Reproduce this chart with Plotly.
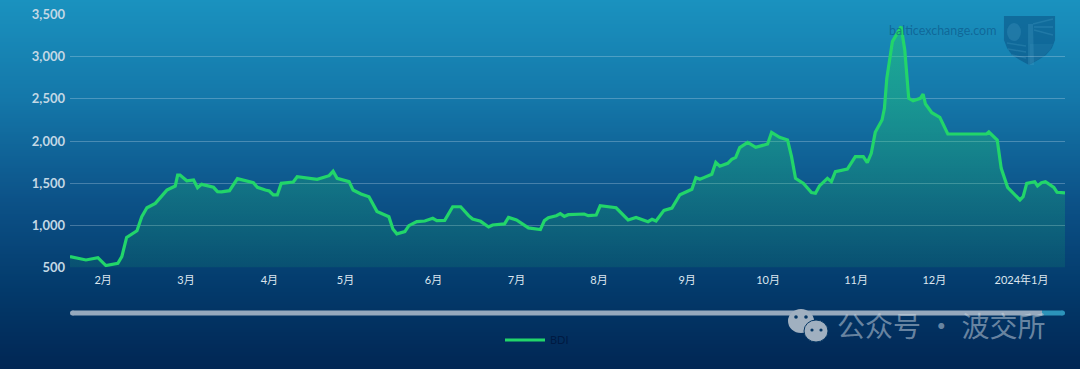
import plotly.graph_objects as go

W, H = 1080, 369

session = [0,4,7,9,12,13,14.2,16.8,18,19.3,21.4,24.3,26.4,27,27.6,29.3,31,32,33,36,37,38,40,42,46,47,49,50,51,52,53,56,57,62,65,66,67,70,71,73,
75,77,80,81,82,84,85,87,89,91,92,94,96,98,100,101,103,105,106,109,110,112,115,118,119,120,122,123,124,125,129,130,132,133,137,140,142,145,146,147,149,151,153,156,157,158,159,161,162,163,
165,166,167,168,170,172,175,176,178,180,181,182,184,186,187,188,190,191,192,195,197,199,200,201,202,203.7,204.3,204.9,206.3,208.5,209.4,210.4,211.5,213.3,214,214.6,216.2,218.2,220.2,228.2,229.9,230.5,232.6,233.6,235.2,238.3,239.1,240,242,242.7,243.7,244.7,246.8,247.6,248.7,249.6]

bdi = [627,587,615,520,547,626,855,934,1100,1207,1259,1417,1465,1595,1595,1527,1537,1446,1485,1450,1398,1395,1410,1553,1505,1450,1418,1406,1359,1359,1497,1513,1576,1545,1588,1640,1557,1517,1418,1371,
1337,1164,1101,956,897,924,995,1042,1050,1082,1054,1058,1219,1219,1113,1074,1046,979,1003,1015,1093,1062,968,948,1054,1090,1113,1137,1105,1125,1133,1113,1121,1231,1207,1062,1093,1042,1070,1050,1176,1203,1361,1427,1565,1545,1565,1604,1746,1700,
1735,1782,1806,1921,1984,1925,1964,2103,2044,2012,1814,1557,1497,1387,1379,1466,1557,1517,1636,1667,1814,1814,1743,1854,2103,2249,2388,2744,3180,3358,3081,2507,2479,2507,2558,2439,2336,2281,2083,2083,2083,2107,2012,1675,1450,1300,1339,1497,1517,1466,1505,1517,1450,1391,1383,1383]

tick_sessions = [8.3,29.1,50,69.1,91.2,112,132.7,154.8,175.1,197.2,216.8,238.7]
tick_labels = ["2月","3月","4月","5月","6月","7月","8月","9月","10月","11月","12月","2024年1月"]
y_ticks = [500,1000,1500,2000,2500,3000,3500]

FONT = "Lato, 'Noto Sans CJK SC', sans-serif"

def px(x): return x / W
def py(y): return 1 - y / H

stops = [(0,(26,146,191)),(100,(20,119,169)),(200,(12,82,136)),(290,(3,58,107)),(369,(1,38,84))]
def bg(y):
    for (a,ca),(b,cb) in zip(stops, stops[1:]):
        if a <= y <= b:
            t = (y-a)/(b-a)
            return "rgb(%d,%d,%d)" % tuple(round(ca[i]+(cb[i]-ca[i])*t) for i in range(3))
    return "rgb(1,38,84)"

shapes = [dict(type="rect", xref="paper", yref="paper", x0=0, x1=1, y0=0, y1=py(y),
               fillcolor=bg(y+1), line_width=0, layer="below") for y in range(0, H, 2)]

def dot(cx, cy, rx, ry, color, layer="above", **kw):
    return dict(type="circle", xref="paper", yref="paper", x0=px(cx-rx), x1=px(cx+rx),
                y0=py(cy+ry), y1=py(cy-ry), fillcolor=color, line_width=0, layer=layer, **kw)

def seg(x0, y0, x1, y1, color, width, layer="above"):
    return dict(type="line", xref="paper", yref="paper", x0=px(x0), x1=px(x1), y0=py(y0), y1=py(y1),
                line=dict(color=color, width=width), layer=layer)

def poly(points, color, layer="below"):
    path = "M " + " L ".join(f"{px(a):.4f},{py(b):.4f}" for a,b in points) + " Z"
    return dict(type="path", xref="paper", yref="paper", path=path, fillcolor=color, line_width=0, layer=layer)

# range slider look
shapes += [
    seg(1042, 313, 1062.5, 313, "#2c94ba", 5),
    dot(1062.5, 313, 2.5, 2.5, "#2c94ba"),
    dot(72.5, 313, 2.5, 2.5, "#96a9bd"),
    seg(72.5, 313, 1042, 313, "#96a9bd", 5),
]

# shield watermark
shield = [(1004,16),(1055,16),(1055,40),(1052,48),(1046,55),(1038,60),(1029,65),(1020,60),(1012,55),(1007,48),(1004,40)]
light = "rgba(70,155,195,0.3)"
shapes += [
    poly(shield, "rgba(8,75,125,0.5)"),
    poly([(1030,44),(1053,44),(1050,50),(1044,56),(1030,64)], "rgba(70,155,195,0.15)"),
    poly([(1028,24),(1033,24),(1034,65),(1028,65)], light),
    seg(1033,24,1053,19,light,1.6,"below"), seg(1034,27,1053,27,light,1.6,"below"), seg(1034,30,1053,35,light,1.6,"below"),
    dot(1014,32,7,9,light,"below"),
    seg(1007,43,1026,46,light,1.4,"below"), seg(1008,49,1026,52,light,1.4,"below"), seg(1012,55,1026,58,light,1.4,"below"),
]

# chat icon
icon = "rgb(160,176,192)"
eye = "rgb(5,55,100)"
shapes += [
    dot(801, 321, 13, 12, icon),
    dict(type="circle", xref="paper", yref="paper", x0=px(804), x1=px(828), y0=py(342), y1=py(320),
         fillcolor=icon, line=dict(color=eye, width=1), layer="above"),
    dot(796, 317, 1.8, 1.8, eye), dot(806, 317, 1.8, 1.8, eye),
    dot(812, 330, 1.6, 1.6, eye), dot(821, 330, 1.6, 1.6, eye),
]

fig = go.Figure()
fig.add_trace(go.Scatter(
    x=session, y=bdi, mode="lines", showlegend=False, hoverinfo="skip",
    line=dict(width=0), fill="tozeroy",
    fillgradient=dict(type="vertical",
                      colorscale=[[0,"rgba(34,213,106,0.05)"],[1,"rgba(34,213,106,0.45)"]]),
))
fig.add_trace(go.Scatter(
    x=session, y=bdi, mode="lines", name="BDI",
    line=dict(color="#22d56a", width=3.2),
))

fig.update_layout(
    width=W, height=H, margin=dict(l=0,r=0,t=0,b=0,autoexpand=False),
    paper_bgcolor="#012654", plot_bgcolor="rgba(0,0,0,0)",
    shapes=shapes,
    font=dict(family=FONT, color="#c3d8e5", size=11),
    xaxis=dict(domain=[px(70),px(1065)], range=[0,249.6], tickmode="array",
               tickvals=tick_sessions, ticktext=tick_labels, showgrid=False, zeroline=False,
               showline=False, ticks="", tickfont=dict(size=11,color="#dce6ee"), anchor="y",
               fixedrange=True, automargin=False, ticklabelstandoff=5),
    yaxis=dict(domain=[py(267.3),py(14.7)], range=[500,3500], tickmode="array",
               tickvals=y_ticks, tickformat=",d", showgrid=True,
               gridcolor="rgba(220,235,245,0.28)", gridwidth=1, zeroline=False,
               showline=False, ticks="", tickfont=dict(size=13,color="#c3d8e5",weight=700),
               fixedrange=True, automargin=False, ticklabelstandoff=4),
    legend=dict(x=px(500), y=py(340), xanchor="left", yanchor="middle", orientation="h",
                bgcolor="rgba(0,0,0,0)", font=dict(size=11,color="#001a42"), itemwidth=40),
    showlegend=True,
    annotations=[
        dict(text="balticexchange.com", xref="paper", yref="paper", x=px(943), y=py(30.5),
             xanchor="center", yanchor="middle", showarrow=False,
             font=dict(size=12.5,color="rgba(10,75,125,0.55)")),
        dict(text="公众号 · 波交所", xref="paper", yref="paper", x=px(941.5), y=py(325),
             xanchor="center", yanchor="middle", showarrow=False,
             font=dict(size=28,family="'Noto Sans CJK SC'",color="rgba(205,215,225,0.52)")),
    ],
)

fig.write_html("out.html", config=dict(displayModeBar=False),
               post_script="document.body.style.margin='0';document.body.style.overflow='hidden';")
